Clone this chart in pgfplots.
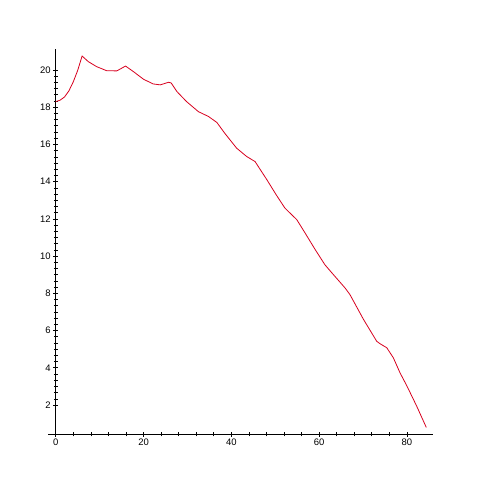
\documentclass[border=0pt]{standalone}
\usepackage{pgfplots}
\pgfplotsset{compat=1.18}
\usepackage{fontspec}
\setmainfont{Liberation Sans}
\definecolor{curve}{RGB}{215,0,30}
\begin{document}
\begin{tikzpicture}
\path[use as bounding box] (0,0) rectangle (482bp,482bp);
\begin{axis}[
  at={(48.3bp,47.7bp)}, anchor=south west,
  scale only axis, width=385bp, height=384.8bp,
  xmin=-1.7, xmax=86.0, ymin=0.43, ymax=21.1,
  axis x line=bottom, axis y line=middle,
  axis line style={-, black, line width=0.8pt},
  xtick={0,20,40,60,80}, ytick={2,4,...,20},
  minor x tick num=4, minor y tick num=5,
  tick align=center,
  major tick length=5bp, minor tick length=4bp,
  every tick/.style={black, line width=0.7pt},
  tick label style={font=\fontsize{9.5}{10}\selectfont},
  /pgf/number format/assume math mode=true,
  xticklabel style={yshift=1bp},
  yticklabel style={xshift=1bp},
  clip=false,
]
\addplot[curve, line width=0.8pt] coordinates {
(0,18.3) (1,18.38) (2,18.55) (3,18.88) (4,19.37) (5,19.98) (6,20.75)
(7.4,20.45) (9.3,20.18) (11.6,19.96) (13.9,19.95) (15.9,20.21) (17.7,19.91)
(20,19.5) (22.2,19.25) (23.8,19.2) (25.7,19.34) (26.3,19.3) (27.6,18.84)
(29.8,18.3) (32.5,17.76) (34.8,17.5) (36.7,17.18) (38.5,16.6) (41.2,15.8)
(43.5,15.35) (45.4,15.08) (48.1,14.1) (50.2,13.3) (52.2,12.58) (54.9,11.96)
(56.8,11.24) (59.1,10.35) (61.3,9.54) (62.9,9.1) (65.9,8.29) (67.0,7.94)
(70.1,6.6) (73.1,5.43) (73.9,5.29) (75.4,5.08) (76.9,4.54) (78.4,3.74)
(80.0,3.02) (82.2,1.95) (84.4,0.8)
};
\end{axis}
\end{tikzpicture}
\end{document}
